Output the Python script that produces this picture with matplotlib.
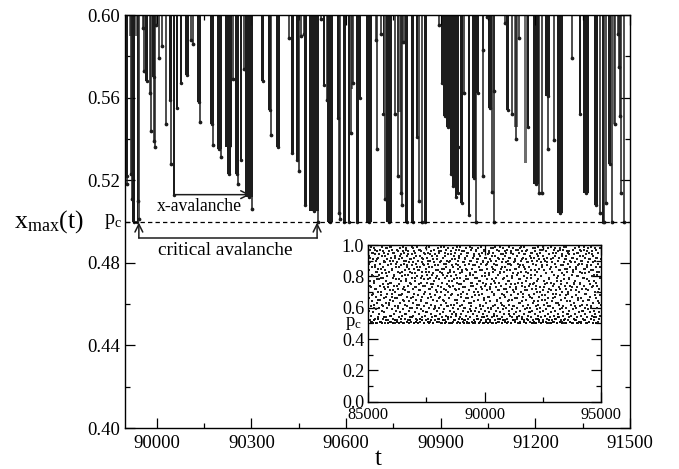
import numpy as np
import matplotlib
matplotlib.use('Agg')
import matplotlib.pyplot as plt

plt.rcParams['font.family'] = ['Liberation Serif', 'DejaVu Serif']
plt.rcParams['mathtext.fontset'] = 'custom'
plt.rcParams['mathtext.rm'] = 'Liberation Serif'
plt.rcParams['mathtext.it'] = 'Liberation Serif'

x_ticks = [90000, 90300, 90600, 90900, 91200, 91500]
x_tick_labels = ['90000', '90300', '90600', '90900', '91200', '91500']
y_ticks = [0.40, 0.44, 0.48, 0.52, 0.56, 0.60]
y_tick_labels = ['0.40', '0.44', '0.48', '0.52', '0.56', '0.60']
p_c = 0.5

# solid runs of spikes: first t, last t, lowest x_max
band_start = [89898, 89921, 89936, 89964, 89984, 90037, 90051, 90062, 90074, 90088, 90128, 90170, 90190,
              90217, 90223, 90247, 90263, 90281, 90329, 90353, 90378, 90424, 90440, 90466, 90483,
              90526, 90541, 90570, 90590, 90605, 90630, 90641, 90662, 90716, 90725, 90787, 90806, 90820,
              90848, 90900, 90907, 90918, 90929, 90936, 90944, 90952, 90962, 90987, 90999, 91013, 91049, 91108,
              91173, 91194, 91231, 91270, 91337, 91352, 91387, 91410, 91431]
band_end = [89910, 89931, 89940, 89973, 89995, 90048, 90057, 90068, 90080, 90101, 90139, 90181, 90206,
            90239, 90234, 90259, 90271, 90304, 90341, 90363, 90389, 90436, 90450, 90475, 90513,
            90532, 90557, 90577, 90599, 90613, 90641, 90647, 90681, 90721, 90745, 90797, 90815, 90827,
            90855, 90907, 90918, 90929, 90936, 90944, 90952, 90957, 90970, 90992, 91012, 91021, 91062, 91117,
            91181, 91212, 91247, 91288, 91344, 91371, 91398, 91419, 91440]
band_low = [.522, .500, .500, .568, .570, .559, .513, .555, .567, .571, .558, .547, .535,
            .536, .523, .523, .530, .512, .568, .554, .536, .533, .530, .508, .505,
            .566, .500, .550, .500, .500, .500, .560, .500, .552, .500, .500, .500, .541,
            .500, .567, .551, .546, .523, .517, .512, .514, .509, .503, .521, .562, .555, .554,
            .546, .518, .561, .504, .552, .514, .508, .500, .528]

# runs where the spikes are not quite touching, they print grey
grey_start = [89911, 89930, 90762, 91131, 91165, 91446, 90615]
grey_end = [89921, 89936, 90773, 91144, 91172, 91453, 90621]
grey_low = [.590, .590, .553, .546, .5285, .547, .564]

# single spikes
spike_t = [89904, 89919, 89921, 89941, 89944, 89955, 89960, 89978, 89980, 89990, 89994, 89997, 90008, 90017,
           90029, 90046, 90107, 90116, 90137, 90179, 90204, 90241, 90256, 90277, 90294, 90303, 90361, 90419,
           90450, 90457, 90466, 90511, 90520, 90540, 90579, 90581, 90617, 90621, 90698, 90711, 90694, 90722,
           90756, 90766, 90773, 90776, 90780, 90786, 90831, 90842, 90896, 90974, 90955, 91011, 91033, 91035,
           91047, 91061, 91068, 91069, 91103, 91126, 91138, 91149, 91222, 91210, 91241, 91258, 91315, 91404,
           91417, 91424, 91444, 91463, 91466, 91469, 91473, 91481, 91452]
spike_x = [.518, .523, .511, .510, .501, .5935, .573, .562, .544, .539, .536, .595, .579, .585,
           .547, .528, .588, .586, .548, .537, .531, .569, .518, .574, .593, .506, .542, .589,
           .5245, .590, .591, .500, .598, .559, .504, .501, .543, .567, .535, .591, .588, .511,
           .552, .522, .514, .508, .587, .587, .510, .500, .595, .562, .536, .500, .583, .522,
           .599, .5145, .500, .563, .596, .552, .540, .589, .514, .5136, .535, .5395, .579, .504,
           .500, .509, .500, .591, .575, .551, .514, .500, .547]

# inset, x_max in hundredths, read left to right across t = 85000..95000
inset_x = [
    71, 93, 58, 84, 66, 97, 52, 77, 89, 61, 99, 55, 73, 86, 64, 95, 51, 80, 69, 91, 57, 76, 98, 62, 87, 53, 72, 94, 67, 83,
    59, 90, 50, 78, 96, 63, 85, 54, 70, 92, 60, 81, 100, 56, 74, 88, 65, 97, 51, 79, 68, 93, 58, 82, 99, 61, 75, 86, 53, 90,
    66, 95, 57, 84, 72, 50, 89, 63, 98, 77, 54, 91, 69, 80, 60, 94, 52, 87, 73, 96, 62, 83, 55, 71, 99, 65, 88, 51, 76, 92,
    59, 85, 67, 97, 53, 79, 90, 64, 74, 56, 95, 81, 50, 70, 93, 61, 86, 58, 78, 100, 66, 52, 89, 72, 96, 60, 83, 54, 75, 91,
    68, 98, 57, 82, 63, 94, 51, 87, 77, 69, 92, 55, 80, 65, 99, 59, 73, 88, 50, 95, 62, 84, 71, 53, 90, 78, 97, 56, 67, 86,
    61, 93, 52, 81, 74, 96, 64, 89, 58, 70, 100, 54, 83, 76, 51, 91, 66, 94, 60, 79, 87, 55, 98, 72, 63, 85, 50, 92, 69, 77,
    57, 95, 82, 53, 88, 65, 73, 99, 60, 80, 52, 90, 68, 84, 56, 97, 75, 62, 93, 51, 86, 71, 79, 59, 96, 64, 54, 89, 83, 67,
    91, 58, 100, 74, 50, 87, 61, 78, 94, 55, 70, 85, 63, 98, 52, 81, 76, 92, 57, 66, 95, 53, 88, 72, 60, 83, 99, 51, 79, 69,
    90, 56, 75, 96, 62, 86, 54, 73, 93, 65, 50, 82, 97, 59, 77, 89, 52, 68, 94, 61, 84, 55, 100, 71, 80, 58, 91, 64, 53, 87,
    74, 98, 60, 78, 51, 95, 67, 83, 56, 90, 70, 62, 96, 54, 85, 76, 50, 92, 65, 81, 57, 99, 72, 88, 59, 79, 52, 93, 68, 86,
    63, 97, 55, 75, 90, 61, 82, 53, 94, 70, 77, 50, 89, 66, 100, 58, 84, 73, 54, 96, 62, 80, 91, 56, 69, 87, 51, 98, 74, 60,
    83, 93, 57, 78, 65, 52, 95, 71, 88, 55, 81, 99, 63, 76, 50, 90, 68, 85, 59, 97, 53, 72, 92, 61, 79, 54, 86, 67, 94, 56,
    75, 100, 62, 83, 51, 89, 70, 58, 96, 64, 77, 52, 91, 73, 87, 60, 98, 55, 80, 66, 50, 93, 69, 84, 57, 95, 78, 53, 88, 63,
    71, 99, 59, 82, 54, 90, 74, 61, 97, 51, 85, 67, 76, 92, 56, 81, 100, 52, 70, 94, 64, 87, 58, 79, 50, 96, 72, 83, 60, 89,
    55, 75, 98, 65, 53, 91, 68, 86, 57, 77, 93, 62, 51, 84, 73, 99, 59, 88, 54, 80, 69, 95, 61, 56, 90, 76, 97, 50, 66, 82,
    92, 58, 74, 87, 63, 52, 100, 71, 85, 55, 78, 94, 60, 53, 89, 67, 96, 57, 81, 72, 51, 91, 64, 98, 75, 59, 86, 54, 70, 93,
    83, 61, 50, 95, 77, 56, 88, 68, 99, 62, 52, 84, 73, 90, 58, 79, 97, 65, 55, 87, 71, 92, 53, 60, 96, 76, 51, 82, 66, 100,
    57, 85, 74, 94, 63, 54, 89, 69, 50, 91, 78, 59, 98, 61, 83, 72, 56, 93, 86, 52, 67, 95, 75, 60, 80, 97, 53, 70, 88, 64,
    51, 90, 77, 58, 99, 62, 84, 55, 73, 92, 68, 50, 87, 96, 59, 79, 54, 65, 94, 71, 82, 56, 100, 61, 89, 75, 52, 91, 66, 85,
    57, 97, 72, 53, 81, 93, 60, 76, 50, 88, 69, 95, 63, 55, 86, 78, 98, 58, 51, 83, 70, 90, 64, 96, 74, 54, 92, 61, 87, 67,
    52, 99, 80, 56, 73, 94, 59, 85, 50, 77, 91, 65, 53, 89, 71, 97, 62, 82, 55, 68, 100, 57, 86, 75, 51, 93, 60, 79, 95, 54,
    84, 66, 90, 72, 58, 98, 63, 52, 88, 76, 50, 92, 69, 81, 56, 96, 61, 74, 53, 87, 94, 59, 70, 83, 55, 99, 64, 78, 51, 91,
    67, 85, 57, 95, 73, 60, 50, 89, 80, 54, 97, 65, 86, 52, 71, 93, 58, 77, 100, 62, 84, 55, 68, 90, 75, 51, 96, 59, 82, 63,
    92, 53, 87, 70, 56, 98, 66, 79, 50, 94, 72, 61, 85, 54, 91, 76, 57, 99, 64, 52, 83, 89, 69, 60, 95, 74, 55, 81, 97, 51,
    67, 88, 58, 93, 71, 53, 86, 63, 100, 77, 50, 90, 56, 80, 96, 62, 73, 54, 92, 68, 84, 59, 98, 52, 75, 87, 65, 51, 94, 70,
    82, 57, 97, 61, 55, 89, 78, 50, 91, 66, 85, 53, 99, 72, 60, 93, 76, 56, 83, 64, 95, 52, 88, 69, 79, 54, 96, 58, 74, 90,
    51, 86, 62, 100, 71, 55, 81, 92, 67, 50, 97, 59, 84, 75, 53, 94, 63, 77, 89, 56, 98, 68, 52, 85, 60, 91, 73, 54, 80, 95,
    65, 50, 87, 70, 99, 57, 83, 61, 93, 76, 51, 96, 66, 55, 88, 72, 58, 90, 79, 53, 100, 64, 85, 52, 74, 97, 60, 82, 56, 92,
    69, 94, 50, 78, 86, 62, 54, 98, 71, 59, 89, 65, 51, 83, 95, 75, 57, 91, 67, 53, 87, 61, 99, 80, 55, 73, 96, 50, 84, 63,
    93, 58, 77, 52, 90, 70, 100, 56, 86, 66, 54, 97, 81, 60, 74, 92, 51, 88, 64, 95, 72, 57, 83, 53, 98, 68, 79, 55, 91, 62,
]
# second reading of the same cloud, upper part and the dark edge above p_c
inset_x2 = [
    88, 74, 92, 99, 81, 68, 95, 77, 60, 86, 97, 72, 83, 91, 65, 78, 94, 100, 70, 85, 62, 96, 79, 89, 73, 93, 67, 82, 98, 75,
    87, 63, 90, 76, 99, 69, 84, 95, 71, 80, 92, 66, 88, 97, 74, 61, 86, 78, 93, 100, 68, 83, 96, 72, 90, 64, 81, 98, 77, 87,
    70, 94, 85, 60, 91, 75, 99, 82, 67, 89, 96, 73, 79, 93, 62, 86, 100, 71, 84, 97, 76, 65, 92, 80, 88, 69, 95, 74, 83, 98,
    63, 90, 78, 86, 94, 72, 100, 67, 81, 91, 75, 97, 60, 87, 79, 93, 70, 84, 96, 66, 89, 73, 99, 82, 76, 92, 64, 85, 95, 71,
    88, 80, 61, 98, 74, 90, 83, 68, 94, 77, 100, 86, 62, 91, 72, 97, 79, 65, 87, 93, 75, 82, 99, 69, 84, 96, 73, 89, 60, 92,
    78, 85, 95, 66, 100, 71, 81, 90, 76, 63, 98, 87, 74, 93, 68, 83, 97, 79, 91, 70, 86, 94, 61, 77, 99, 84, 72, 89, 96, 65,
    80, 92, 75, 88, 67, 100, 82, 95, 73, 60, 90, 78, 85, 98, 69, 93, 76, 87, 64, 97, 81, 71, 91, 83, 99, 74, 62, 86, 94, 79,
    68, 96, 89, 72, 84, 100, 77, 92, 65, 88, 75, 95, 80, 61, 98, 70, 90, 85, 73, 93, 66, 82, 97, 78, 87, 63, 99, 76, 91, 69,
    86, 94, 71, 83, 96, 60, 79, 89, 74, 100, 67, 92, 81, 95, 75, 88, 64, 84, 98, 72, 90, 77, 62, 93, 85, 70, 97, 80, 87, 68,
    99, 73, 91, 65, 82, 96, 76, 89, 61, 94, 78, 100, 71, 86, 83, 92, 66, 75, 98, 88, 69, 95, 79, 63, 90, 84, 72, 97, 77, 93,
    60, 87, 81, 99, 74, 68, 91, 85, 96, 70, 78, 94, 64, 89, 100, 73, 83, 92, 76, 61, 98, 86, 71, 95, 80, 66, 88, 97, 75, 90,
    82, 62, 93, 79, 99, 69, 85, 72, 96, 87, 65, 91, 77, 100, 84, 60, 94, 74, 89, 81, 68, 98, 76, 92, 83, 70, 95, 63, 86, 79,
]
inset_edge = [
    51, 50, 52, 50, 53, 51, 50, 54, 52, 50, 51, 55, 50, 52, 51, 50, 53, 50, 56, 51, 50, 52, 54, 50, 51, 50, 53, 52, 50, 57,
    51, 50, 52, 50, 55, 51, 53, 50, 52, 50, 51, 54, 50, 50, 52, 56, 51, 50, 53, 50, 52, 51, 50, 58, 50, 51, 53, 50, 52, 50,
    54, 51, 50, 52, 50, 55, 50, 51, 53, 50, 52, 51, 50, 56, 50, 52, 51, 54, 50, 50, 53, 51, 50, 52, 57, 50, 51, 50, 53, 52,
    50, 51, 55, 50, 52, 50, 51, 53, 50, 54, 51, 50, 52, 50, 56, 51, 50, 53, 52, 50, 51, 50, 58, 52, 50, 51, 53, 50, 54, 50,
]


def style_axes(a, major_len, minor_len):
    a.tick_params(which='major', direction='in', length=major_len, width=0.9, top=True, right=True)
    a.tick_params(which='minor', direction='in', length=minor_len, width=0.9, top=True, right=True)
    for s in a.spines.values():
        s.set_linewidth(1.0)


fig = plt.figure(figsize=(6.79, 4.69), dpi=100)
ax = fig.add_axes([125.3 / 679, 41 / 469, 504.7 / 679, 413 / 469])

ax.bar(grey_start, np.array(grey_low) - 0.6, width=np.array(grey_end) - np.array(grey_start), bottom=0.6,
       align='edge', color='#6e6e6e', linewidth=0)
ax.bar(band_start, np.array(band_low) - 0.6, width=np.array(band_end) - np.array(band_start), bottom=0.6,
       align='edge', color='#1c1c1c', linewidth=0)
ax.vlines(spike_t, spike_x, 0.6, color='#1c1c1c', linewidth=1.1)
ax.plot(spike_t, spike_x, linestyle='none', marker='o', markersize=1.7, color='#1c1c1c')
ax.plot((np.array(band_start) + np.array(band_end)) / 2, band_low, linestyle='none', marker='o', markersize=1.5,
        color='#1c1c1c')
ax.axhline(p_c, color='black', linewidth=0.9, linestyle=(0, (3.5, 2.5)))

ax.set_xlim(89900, 91500)
ax.set_ylim(0.40, 0.60)
ax.set_xticks(x_ticks)
ax.set_xticklabels(x_tick_labels, fontsize=13.5)
ax.set_xticks([90150, 90450, 90750, 91050, 91350], minor=True)
ax.set_yticks(y_ticks)
ax.set_yticklabels(y_tick_labels, fontsize=13.5)
ax.set_yticks([0.42, 0.46, 0.50, 0.54, 0.58], minor=True)
style_axes(ax, 7.5, 3.5)
ax.tick_params(axis='x', pad=5)
ax.tick_params(axis='y', pad=4)

ax.text(90136, 0.5075, 'x-avalanche', fontsize=12.7, ha='center', va='center')
ax.text(90218, 0.486, 'critical avalanche', fontsize=13.9, ha='center', va='center')
ax.annotate('', xy=(90296, 0.513), xytext=(90054, 0.513),
            arrowprops=dict(arrowstyle='->', color='#1c1c1c', lw=1.1, shrinkA=0, shrinkB=0, mutation_scale=14))
ax.plot([89943, 90508], [0.492, 0.492], color='#1c1c1c', linewidth=1.1)
for t_arrow in [89943, 90508]:
    ax.annotate('', xy=(t_arrow, 0.4995), xytext=(t_arrow, 0.492),
                arrowprops=dict(arrowstyle='->', color='#1c1c1c', lw=1.1, shrinkA=0, shrinkB=0, mutation_scale=14))

ax.text(89860, 0.5, r'$\mathrm{p_c}$', fontsize=14.5, ha='center', va='center', clip_on=False)
fig.text(378 / 679, 1 - 465 / 469, 't', fontsize=18, ha='center', va='baseline')
fig.text(49 / 679, 1 - 222 / 469, r'$\mathrm{x_{max}(t)}$', fontsize=18.5, ha='center', va='center')

# inset
axin = fig.add_axes([368.3 / 679, (469 - 401.7) / 469, 232.7 / 679, 156.7 / 469])
axin.plot(np.linspace(85000, 95000, len(inset_x)), np.array(inset_x) / 100, linestyle='none', marker='s',
          markersize=1.8, markeredgewidth=0, color='#222222')
axin.plot(np.linspace(85030, 94970, len(inset_x2)), np.array(inset_x2) / 100, linestyle='none', marker='s',
          markersize=1.8, markeredgewidth=0, color='#222222')
axin.plot(np.linspace(85100, 94800, len(inset_edge)), np.array(inset_edge) / 100, linestyle='none', marker='s',
          markersize=1.5, markeredgewidth=0, color='#111111')
axin.set_xlim(85000, 95000)
axin.set_ylim(0, 1)
axin.set_xticks([85000, 90000, 95000])
axin.set_xticklabels(['85000', '90000', '95000'], fontsize=11.8)
axin.set_xticks([87500, 92500], minor=True)
axin.set_yticks([0, 0.2, 0.4, 0.6, 0.8, 1.0])
axin.set_yticklabels(['0.0', '0.2', '0.4', '0.6', '0.8', '1.0'], fontsize=13)
axin.set_yticks([0.1, 0.3, 0.5, 0.7, 0.9], minor=True)
style_axes(axin, 7, 3.5)
axin.tick_params(axis='x', pad=4)
axin.tick_params(axis='y', pad=3)
axin.text(84350, 0.5, r'$\mathrm{p_c}$', fontsize=13.5, ha='center', va='center', clip_on=False)

fig.savefig('out.png', dpi=100)
